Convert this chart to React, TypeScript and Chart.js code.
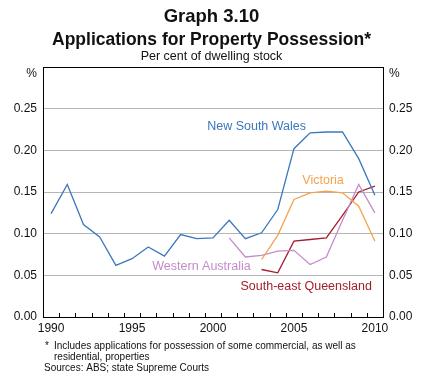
import React, { useEffect, useRef } from 'react';
import { Chart, registerables } from 'chart.js';

Chart.register(...registerables);

const years: string[] = ['1990', '1991', '1992', '1993', '1994', '1995', '1996', '1997', '1998', '1999', '2000', '2001', '2002', '2003', '2004', '2005', '2006', '2007', '2008', '2009', '2010'];

const newSouthWales: (number | null)[] = [0.124, 0.159, 0.111, 0.096, 0.062, 0.070, 0.084, 0.073, 0.099, 0.094, 0.095, 0.116, 0.094, 0.101, 0.129, 0.202, 0.221, 0.222, 0.222, 0.190, 0.146];
const victoria: (number | null)[] = [null, null, null, null, null, null, null, null, null, null, null, null, null, 0.069, 0.098, 0.141, 0.149, 0.151, 0.149, 0.133, 0.091];
const westernAustralia: (number | null)[] = [null, null, null, null, null, null, null, null, null, null, null, 0.095, 0.072, 0.074, 0.079, 0.080, 0.063, 0.072, 0.116, 0.159, 0.125];
const southEastQueensland: (number | null)[] = [null, null, null, null, null, null, null, null, null, null, null, null, null, 0.057, 0.053, 0.091, 0.093, 0.095, 0.122, 0.150, 0.157];

const seriesNames = ['New South Wales', 'Victoria', 'Western Australia', 'South-east Queensland'];
const seriesColors = ['#3b78bd', '#f5a24e', '#c48cc9', '#a51d2d'];
// label anchors: [category index (fractional), value at text middle]
const labelAnchors: [number, number][] = [[9.64, 0.228], [15.52, 0.164], [6.25, 0.061], [11.7, 0.037]];

const yTicks = [0, 0.05, 0.1, 0.15, 0.2, 0.25, 0.3];

const title = 'Graph 3.10';
const subtitle = 'Applications for Property Possession*';
const unitsLine = 'Per cent of dwelling stock';
const footnotes = ['Includes applications for possession of some commercial, as well as', 'residential, properties'];
const sources = 'Sources: ABS; state Supreme Courts';

const FONT = '"Liberation Sans", Arial, sans-serif';

const overlay = {
  id: 'overlay',
  afterDraw(chart: any) {
    const { ctx, chartArea: a, scales } = chart;
    const x = scales.x;
    const y = scales.y;
    const W = chart.width;
    ctx.save();
    // top border
    ctx.strokeStyle = '#000';
    ctx.lineWidth = 1;
    ctx.beginPath();
    ctx.moveTo(a.left, Math.round(a.top) + 0.5);
    ctx.lineTo(a.right, Math.round(a.top) + 0.5);
    // inward ticks at year boundaries
    for (let i = 0; i < years.length - 1; i++) {
      const px = Math.round(x.getPixelForValue(i + 0.5)) + 0.5;
      ctx.moveTo(px, a.bottom);
      ctx.lineTo(px, a.bottom - 4);
    }
    ctx.stroke();

    // titles
    ctx.fillStyle = '#111';
    ctx.textAlign = 'center';
    ctx.textBaseline = 'alphabetic';
    ctx.font = `bold 18.5px ${FONT}`;
    ctx.fillText(title, W / 2, 22);
    ctx.font = `bold 17.5px ${FONT}`;
    ctx.fillText(subtitle, W / 2, 45);
    ctx.font = `12.5px ${FONT}`;
    ctx.fillText(unitsLine, W / 2, 59.5);

    // % units
    ctx.font = `12px ${FONT}`;
    ctx.textBaseline = 'middle';
    ctx.textAlign = 'right';
    ctx.fillText('%', a.left - 6, y.getPixelForValue(0.3) + 7);
    ctx.textAlign = 'left';
    ctx.fillText('%', a.right + 6, y.getPixelForValue(0.3) + 7);

    // series labels
    ctx.font = `12.5px ${FONT}`;
    ctx.textAlign = 'left';
    seriesNames.forEach((name, i) => {
      const [ix, v] = labelAnchors[i];
      ctx.fillStyle = seriesColors[i];
      ctx.fillText(name, x.getPixelForValue(ix), y.getPixelForValue(v));
    });

    // footnotes
    ctx.fillStyle = '#111';
    ctx.font = `10px ${FONT}`;
    ctx.textBaseline = 'middle';
    ctx.fillText('*', 45, 346);
    ctx.fillText(footnotes[0], 54, 346);
    ctx.fillText(footnotes[1], 54, 357);
    ctx.fillText(sources, 44, 368.5);
    ctx.restore();
  },
};

export default function App() {
  const ref = useRef<HTMLCanvasElement | null>(null);
  useEffect(() => {
    if (!ref.current) return;
    const series = [newSouthWales, victoria, westernAustralia, southEastQueensland];
    const chart = new Chart(ref.current, {
      type: 'line',
      data: {
        labels: years,
        datasets: series.map((d, i) => ({
          label: seriesNames[i],
          data: d,
          borderColor: seriesColors[i],
          backgroundColor: seriesColors[i],
          borderWidth: 1.3,
          pointRadius: 0,
          tension: 0,
          spanGaps: false,
          fill: false,
        })),
      },
      options: {
        responsive: false,
        animation: false,
        devicePixelRatio: 1,
        layout: { padding: { top: 67, left: 0, right: 0, bottom: 0 } },
        plugins: {
          legend: { display: false },
          title: { display: false },
          tooltip: { enabled: false },
        },
        scales: {
          x: {
            type: 'category',
            offset: true,
            grid: { display: false, offset: true, drawTicks: false },
            border: { display: true, color: '#000', width: 1 },
            ticks: {
              autoSkip: false,
              maxRotation: 0,
              padding: 4,
              color: '#111',
              font: { family: FONT, size: 12 },
              callback: (_v: any, i: number) => (Number(years[i]) % 5 === 0 ? years[i] : ''),
            },
            afterFit: (s: any) => { s.height = 61; },
          },
          y: {
            position: 'left',
            min: 0,
            max: 0.3,
            afterBuildTicks: (s: any) => { s.ticks = yTicks.map((v) => ({ value: v })); },
            grid: {
              color: '#b5b5b5',
              lineWidth: 1,
              drawTicks: false,
            },
            border: { display: true, color: '#000', width: 1 },
            ticks: {
              padding: 6,
              color: '#111',
              font: { family: FONT, size: 12 },
              callback: (v: any) => (Number(v) > 0.29 ? '' : Number(v).toFixed(2)),
            },
            afterFit: (s: any) => { s.width = 43; },
          },
          y2: {
            position: 'right',
            min: 0,
            max: 0.3,
            afterBuildTicks: (s: any) => { s.ticks = yTicks.map((v) => ({ value: v })); },
            grid: { display: false, drawTicks: false },
            border: { display: true, color: '#000', width: 1 },
            ticks: {
              padding: 6,
              color: '#111',
              font: { family: FONT, size: 12 },
              callback: (v: any) => (Number(v) > 0.29 ? '' : Number(v).toFixed(2)),
            },
            afterFit: (s: any) => { s.width = 40; },
          },
        },
      },
      plugins: [overlay],
    } as any);
    return () => chart.destroy();
  }, []);
  return (
    <div style={{ position: 'fixed', left: 0, top: 0, width: 423, height: 378, background: '#fff' }}>
      <canvas ref={ref} width={423} height={378} style={{ width: 423, height: 378, display: 'block' }} />
    </div>
  );
}
